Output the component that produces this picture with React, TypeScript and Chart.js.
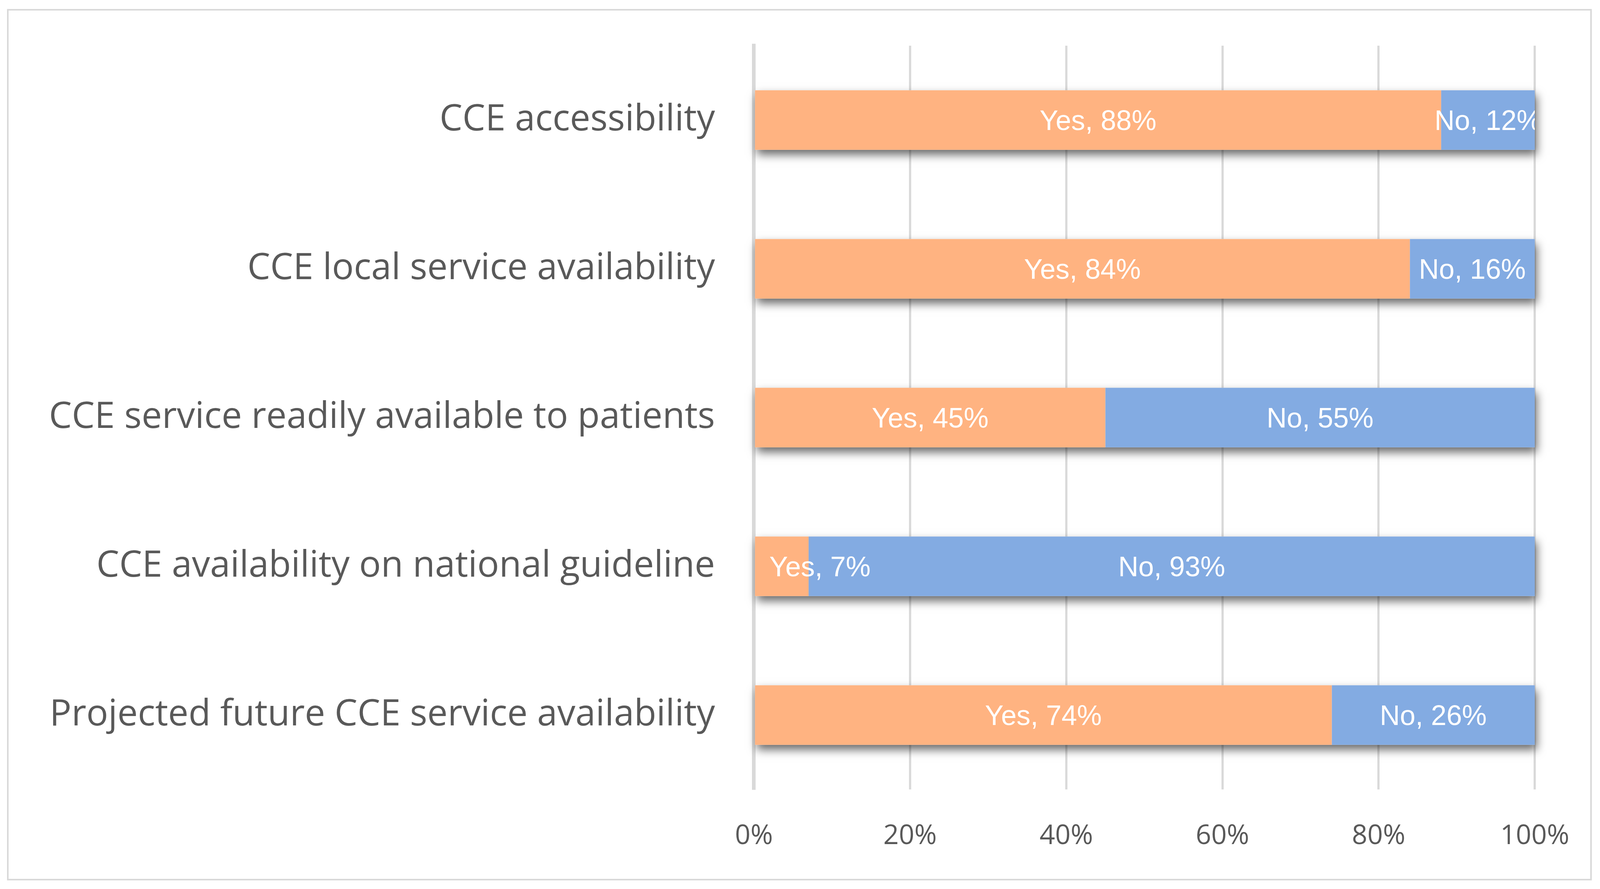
import React, { useEffect, useRef } from "react";
import { Chart, registerables } from "chart.js";

Chart.register(...registerables);

const categories = [
  "CCE accessibility",
  "CCE local service availability",
  "CCE service readily available to patients",
  "CCE availability on national guideline",
  "Projected future CCE service availability",
];
const yesValues = [88, 84, 45, 7, 74];
const noValues = [12, 16, 55, 93, 26];
const seriesNames = ["Yes", "No"];
const xTicks = [0, 20, 40, 60, 80, 100];

const ORANGE = "#FFB381";
const BLUE = "#83ABE2";
const GRID = "#D9D9D9";
const TEXT = "#595959";

const REF_W = 4360;
const REF_H = 2277;

function makeShadowPlugin(s: number) {
  return {
    id: "barShadow",
    beforeDatasetsDraw(chart: any) {
      const ctx = chart.ctx;
      const metas = chart.getSortedVisibleDatasetMetas();
      if (!metas.length) return;
      const n = metas[0].data.length;
      const dpr = chart.currentDevicePixelRatio || 1;
      ctx.save();
      ctx.shadowColor = "rgba(0,0,0,0.6)";
      ctx.shadowBlur = 24 * s * dpr;
      ctx.shadowOffsetX = 5 * s * dpr;
      ctx.shadowOffsetY = 13 * s * dpr;
      ctx.fillStyle = "#ffffff";
      for (let i = 0; i < n; i++) {
        let minX = Infinity, maxX = -Infinity, top = 0, bottom = 0;
        metas.forEach((m: any) => {
          const el = m.data[i];
          const p = el.getProps(["x", "y", "base", "height"], true);
          minX = Math.min(minX, p.base, p.x);
          maxX = Math.max(maxX, p.base, p.x);
          top = p.y - p.height / 2;
          bottom = p.y + p.height / 2;
        });
        ctx.fillRect(minX, top, maxX - minX, bottom - top);
      }
      ctx.restore();
    },
  };
}

function makeLabelPlugin(s: number) {
  return {
    id: "segLabels",
    afterDatasetsDraw(chart: any) {
      const ctx = chart.ctx;
      const size = 76 * s;
      const area = chart.chartArea;
      ctx.save();
      ctx.beginPath();
      ctx.rect(area.left, area.top, area.right - area.left, area.bottom - area.top);
      ctx.clip();
      ctx.font = `${size}px "Liberation Sans", Arial, sans-serif`;
      ctx.fillStyle = "#ffffff";
      ctx.textAlign = "left";
      ctx.textBaseline = "alphabetic";
      chart.getSortedVisibleDatasetMetas().forEach((m: any) => {
        const ds = chart.data.datasets[m.index];
        m.data.forEach((el: any, i: number) => {
          const p = el.getProps(["x", "y", "base"], true);
          const cx = (p.x + p.base) / 2;
          const txt = `${ds.label}, ${ds.data[i]}%`;
          const w = ctx.measureText(txt).width;
          let left = cx - w / 2;
          const minLeft = area.left + 42 * s;
          if (left < minLeft) left = minLeft;
          ctx.fillText(txt, left, p.y + size * 0.358);
        });
      });
      ctx.restore();
    },
  };
}

export default function App() {
  const ref = useRef<HTMLCanvasElement | null>(null);
  const W = typeof window !== "undefined" ? window.innerWidth : REF_W;
  const H = typeof window !== "undefined" ? window.innerHeight : REF_H;
  const sx = W / REF_W;
  const sy = H / REF_H;

  const boxLeft = 19 * sx;
  const boxTop = 23 * sy;
  const boxW = 4319 * sx;
  const boxH = 2232 * sy;
  const bw = Math.max(1, 5 * sx);
  const cw = Math.round(boxW - 2 * bw);
  const ch = Math.round(boxH - 2 * bw);

  useEffect(() => {
    document.body.style.margin = "0";
    document.body.style.overflow = "hidden";
    const canvas = ref.current!;
    const chart = new Chart(canvas, {
      type: "bar",
      data: {
        labels: categories,
        datasets: [
          { label: seriesNames[0], data: yesValues, backgroundColor: ORANGE, borderWidth: 0 },
          { label: seriesNames[1], data: noValues, backgroundColor: BLUE, borderWidth: 0 },
        ],
      },
      options: {
        indexAxis: "y",
        responsive: false,
        animation: false,
        layout: { padding: { left: 0, top: 90 * sy, right: 150 * sx, bottom: 0 } },
        datasets: { bar: { categoryPercentage: 1, barPercentage: 0.4 } },
        plugins: { legend: { display: false }, tooltip: { enabled: false } },
        scales: {
          x: {
            stacked: true,
            min: 0,
            max: 100,
            afterBuildTicks: (scale: any) => {
              scale.ticks = xTicks.map((v) => ({ value: v }));
            },
            afterFit: (scale: any) => {
              scale.height = 228 * sy;
              scale.paddingLeft = 0;
              scale.paddingRight = 0;
            },
            grid: { color: GRID, lineWidth: 6 * sx, drawTicks: false },
            border: { display: false },
            ticks: {
              padding: 78 * sy,
              color: TEXT,
              font: { family: '"Open Sans", sans-serif', size: 74 * sx },
              callback: (v: any) => `${v}%`,
            },
          },
          y: {
            stacked: true,
            afterFit: (scale: any) => {
              scale.width = 2031 * sx;
              scale.paddingTop = 0;
              scale.paddingBottom = 0;
            },
            grid: { display: false, drawTicks: false },
            border: { display: true, color: GRID, width: 10 * sx },
            ticks: {
              padding: 106 * sx,
              color: TEXT,
              font: { family: '"Open Sans", sans-serif', size: 99 * sx },
            },
          },
        },
      },
      plugins: [makeShadowPlugin(sx), makeLabelPlugin(sx)],
    });
    return () => chart.destroy();
  }, []);
  return (
    <div
      style={{
        position: "absolute",
        left: boxLeft,
        top: boxTop,
        width: boxW,
        height: boxH,
        border: `${bw}px solid ${GRID}`,
        boxSizing: "border-box",
        background: "#fff",
      }}
    >
      <canvas ref={ref} width={cw} height={ch} style={{ display: "block", width: cw, height: ch }} />
    </div>
  );
}
